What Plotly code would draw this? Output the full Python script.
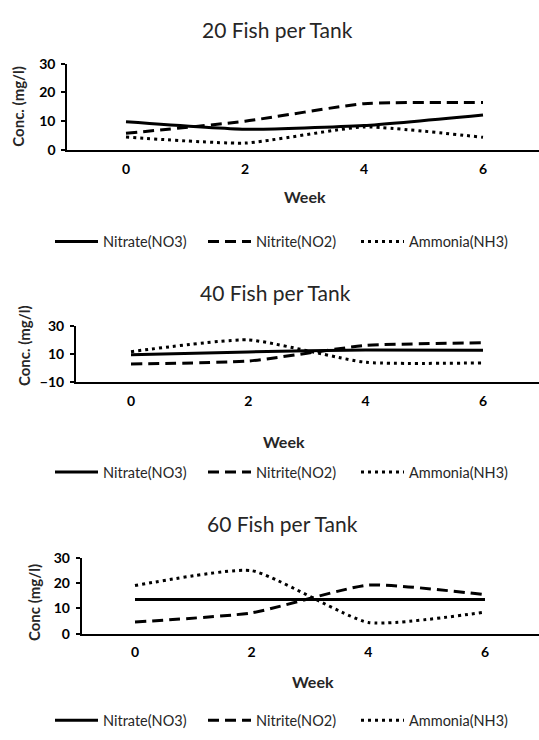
import plotly.graph_objects as go

# Sampling weeks
weeks = [0, 2, 4, 6]
week_ticks = ["0", "2", "4", "6"]

# Concentrations (mg/l) per stocking density
p20_nitrate = [9.8, 7.2, 8.5, 12.2]
p20_nitrite = [5.8, 10.0, 16.1, 16.5]
p20_ammonia = [4.5, 2.4, 8.0, 4.4]

p40_nitrate = [9.3, 11.4, 12.8, 12.6]
p40_nitrite = [2.8, 4.9, 16.0, 17.9]
p40_ammonia = [11.6, 20.0, 4.0, 3.6]

p60_nitrate = [13.5, 13.5, 13.5, 13.5]
p60_nitrite = [4.6, 8.2, 19.2, 15.4]
p60_ammonia = [19.0, 24.9, 4.4, 8.5]

series_names = ["Nitrate(NO3)", "Nitrite(NO2)", "Ammonia(NH3)"]
panel_titles = ["20 Fish per Tank", "40 Fish per Tank", "60 Fish per Tank"]
y_titles = ["Conc. (mg/l)", "Conc. (mg/l)", "Conc (mg/l)"]
x_title = "Week"
y_ticks = [[0, 10, 20, 30], [-10, 10, 30], [0, 10, 20, 30]]

W, H = 539, 740
FONT = "Lato"
dashes = ["solid", "11px,6px", "3px,4px"]

panels = [
    dict(data=[p20_nitrate, p20_nitrite, p20_ammonia], yrange=[0, 30],
         top=56.0, bottom=144.3, left=67.3, x0=126.0, x6=483.0,
         title_xy=(277, 21), ytitle_xy=(18, 100), week_xy=(305, 192), legend_y=238),
    dict(data=[p40_nitrate, p40_nitrite, p40_ammonia], yrange=[-10, 30],
         top=324.3, bottom=381.7, left=76.0, x0=131.0, x6=483.0,
         title_xy=(275, 290), ytitle_xy=(24, 345), week_xy=(284, 443), legend_y=474),
    dict(data=[p60_nitrate, p60_nitrite, p60_ammonia], yrange=[0, 30],
         top=561.7, bottom=639.3, left=81.7, x0=135.0, x6=485.0,
         title_xy=(282, 527), ytitle_xy=(34, 608), week_xy=(313, 688), legend_y=728),
]

fig = go.Figure()
annotations = []

for i, p in enumerate(panels):
    n = i + 1
    xa = "x" if n == 1 else f"x{n}"
    ya = "y" if n == 1 else f"y{n}"
    leg = "legend" if n == 1 else f"legend{n}"
    for name, vals, dash in zip(series_names, p["data"], dashes):
        fig.add_trace(go.Scatter(
            x=weeks, y=vals, name=name, mode="lines",
            line=dict(color="black", width=3, dash=dash, shape="spline", smoothing=0.5),
            xaxis=xa, yaxis=ya, legend=leg, showlegend=True,
        ))

    px_per_week = (p["x6"] - p["x0"]) / 6.0
    xr = [(p["left"] - p["x0"]) / px_per_week, (W - p["x0"]) / px_per_week]
    xkey = "xaxis" if n == 1 else f"xaxis{n}"
    ykey = "yaxis" if n == 1 else f"yaxis{n}"
    fig.update_layout({
        xkey: dict(domain=[p["left"] / W, 1.0], range=xr, anchor=ya,
                   tickvals=weeks, ticktext=week_ticks, showgrid=False,
                   zeroline=False, showline=True, linecolor="black", linewidth=2,
                   ticks="", ticklabelstandoff=5,
                   tickfont=dict(family=FONT, size=14, color="black", weight="bold")),
        ykey: dict(domain=[1 - p["bottom"] / H, 1 - p["top"] / H], range=p["yrange"],
                   anchor=xa, tickvals=y_ticks[i], showgrid=False, zeroline=False,
                   showline=True, linecolor="black", linewidth=2,
                   ticks="outside", ticklen=4, tickwidth=2, tickcolor="black",
                   ticklabelstandoff=3,
                   tickfont=dict(family=FONT, size=14, color="black", weight="bold")),
    })

    annotations.append(dict(text=panel_titles[i], x=p["title_xy"][0] / W,
                            y=1 - p["title_xy"][1] / H, xref="paper", yref="paper",
                            showarrow=False, xanchor="center", yanchor="middle",
                            font=dict(family=FONT, size=21, color="#262626")))
    annotations.append(dict(text=y_titles[i], x=p["ytitle_xy"][0] / W,
                            y=1 - p["ytitle_xy"][1] / H, xref="paper", yref="paper",
                            showarrow=False, xanchor="center", yanchor="middle",
                            textangle=-90,
                            font=dict(family=FONT, size=15, color="#262626", weight="bold")))
    annotations.append(dict(text=x_title, x=p["week_xy"][0] / W,
                            y=1 - p["week_xy"][1] / H, xref="paper", yref="paper",
                            showarrow=False, xanchor="center", yanchor="middle",
                            font=dict(family=FONT, size=16, color="#262626", weight="bold")))

    fig.update_layout({leg: dict(
        orientation="h", x=50 / W, y=1 - p["legend_y"] / H,
        xanchor="left", yanchor="middle", bgcolor="rgba(0,0,0,0)",
        entrywidth=95, entrywidthmode="pixels", itemwidth=43,
        font=dict(family=FONT, size=14.5, color="#262626"),
    )})

fig.update_layout(
    width=W, height=H, margin=dict(l=0, r=0, t=0, b=0),
    paper_bgcolor="white", plot_bgcolor="white",
    annotations=annotations,
)

fig.write_html("out.html")
